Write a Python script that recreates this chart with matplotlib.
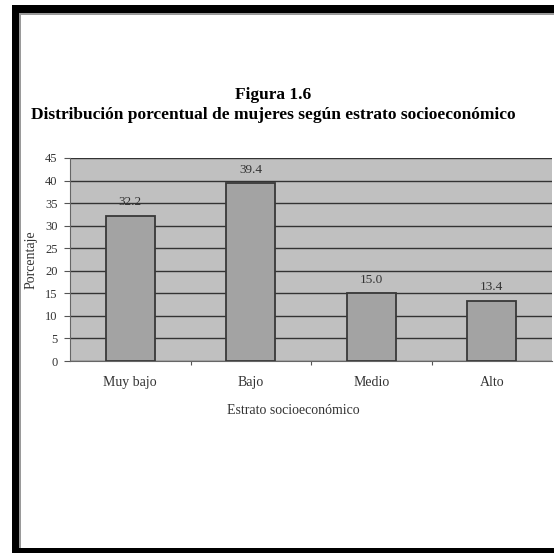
import matplotlib.pyplot as plt
from matplotlib.patches import Rectangle

# Datos de la figura
estratos = ['Muy bajo', 'Bajo', 'Medio', 'Alto']
porcentajes = [32.2, 39.4, 15.0, 13.4]
etiquetas = ['32.2', '39.4', '15.0', '13.4']
marcas_y = [0, 5, 10, 15, 20, 25, 30, 35, 40, 45]

plt.rcParams['font.family'] = ['Liberation Serif', 'DejaVu Serif']

W, H = 554, 553
fig = plt.figure(figsize=(W / 100, H / 100), dpi=100)
fig.patch.set_facecolor('white')

# Marco negro alrededor de la hoja
def px_rect(x0, y0, x1, y1, color):
    fig.patches.append(Rectangle((x0 / W, 1 - y1 / H), (x1 - x0) / W, (y1 - y0) / H,
                                 transform=fig.transFigure, facecolor=color,
                                 edgecolor='none', zorder=0))

px_rect(12, 5, W, 13, 'black')
px_rect(12, 5, 19, H, 'black')
px_rect(12, 548, W, H, 'black')
px_rect(19, 13, W, 15, '#9a9a9a')
px_rect(19, 13, 21, 548, '#9a9a9a')

# Área del gráfico
x0, x1, ytop, ybot = 70, 552, 158, 361
ax = fig.add_axes([x0 / W, 1 - ybot / H, (x1 - x0) / W, (ybot - ytop) / H])
ax.set_facecolor('#c0c0c0')

pos = list(range(len(estratos)))
ax.bar(pos, porcentajes, width=0.41, color='#a3a3a3', edgecolor='#383838',
       linewidth=1.3, zorder=3)
for p, v, t in zip(pos, porcentajes, etiquetas):
    ax.text(p, v + 3.0, t, ha='center', va='center', fontsize=9.5, color='#333333')

ax.set_xlim(-0.5, len(estratos) - 0.5)
ax.set_ylim(0, 45)
ax.set_yticks(marcas_y)
ax.set_yticklabels([str(m) for m in marcas_y], fontsize=9, color='#333333')
ax.yaxis.grid(True, color='#333333', linewidth=1.0, zorder=1)
ax.set_axisbelow(True)

# Marcas del eje x entre categorías
ax.set_xticks([p + 0.5 for p in pos[:-1]], minor=False)
ax.set_xticklabels([])
ax.set_xticks(pos, minor=True)
ax.set_xticklabels(estratos, minor=True, fontsize=10, color='#333333')
ax.tick_params(axis='x', which='minor', length=0, pad=11)
ax.tick_params(axis='x', which='major', length=3, color='#555555')
ax.tick_params(axis='y', length=4, color='#555555', pad=5)

for lado in ['top', 'right']:
    ax.spines[lado].set_visible(False)
ax.spines['left'].set_color('#666666')
ax.spines['bottom'].set_color('#666666')

ax.set_ylabel('Porcentaje', fontsize=10, color='#333333', va='center')
ax.yaxis.set_label_coords((31 - x0) / (x1 - x0), 0.5)
ax.set_xlabel('Estrato socioeconómico', fontsize=10, color='#333333', va='center')
ax.xaxis.set_label_coords((293 - x0) / (x1 - x0), -(410 - ybot) / (ybot - ytop))

# Títulos
fig.text(273 / W, 1 - 95 / H, 'Figura 1.6', ha='center', va='center',
         fontsize=12.5, fontweight='bold')
fig.text(273 / W, 1 - 115 / H,
         'Distribución porcentual de mujeres según estrato socioeconómico',
         ha='center', va='center', fontsize=12.5, fontweight='bold')

fig.savefig('out.png', dpi=100)
